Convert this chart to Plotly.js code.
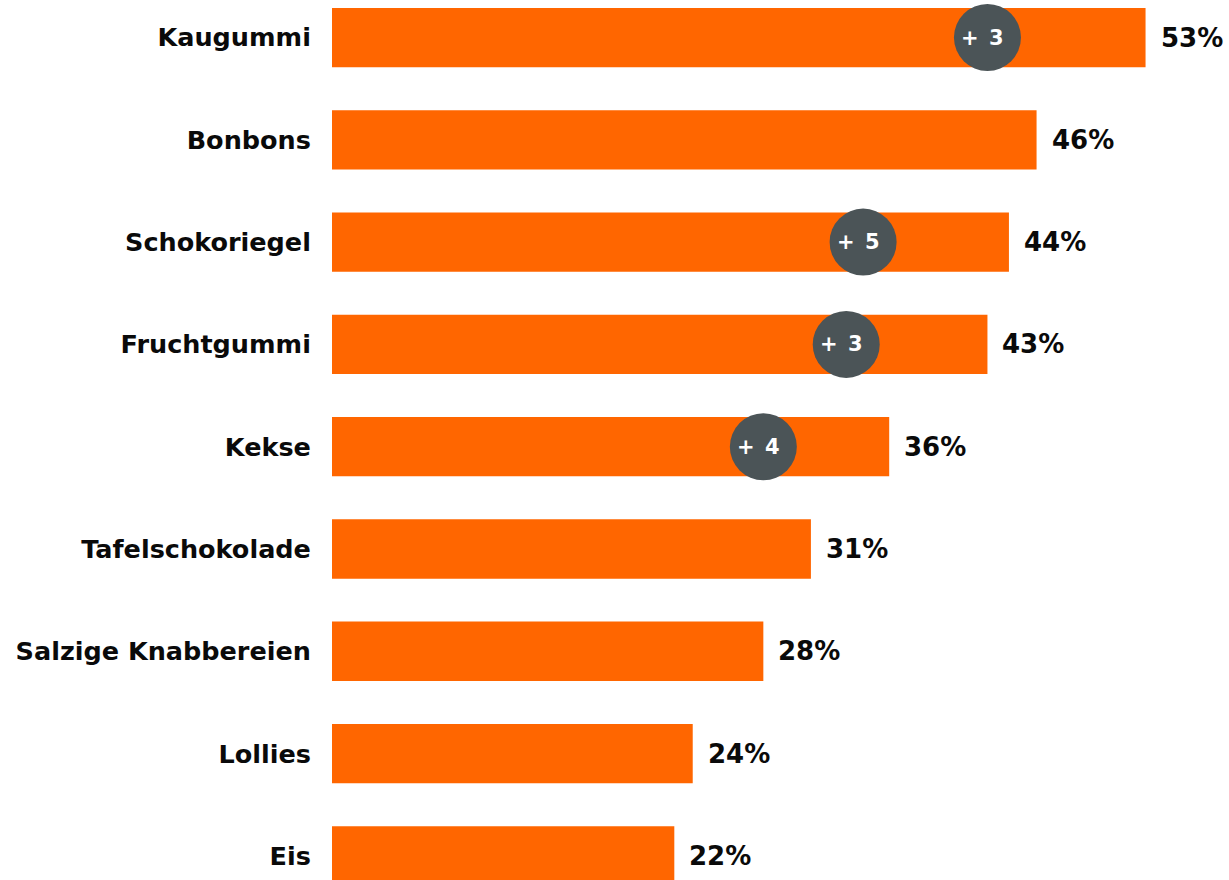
<!DOCTYPE html>
<html>
<head>
<meta charset="utf-8">
<script src="https://cdn.plot.ly/plotly-3.0.1.min.js"></script>
<style>
  html, body { margin: 0; padding: 0; background: #fff; }
  #chart { width: 1229px; height: 880px; }
</style>
</head>
<body>
<div id="chart"></div>
<script>
// Data
const categories = ["Kaugummi", "Bonbons", "Schokoriegel", "Fruchtgummi", "Kekse",
                    "Tafelschokolade", "Salzige Knabbereien", "Lollies", "Eis"];
const values = [53.0, 45.9, 44.1, 42.7, 36.3, 31.2, 28.1, 23.5, 22.3];
const valueLabels = ["53%", "46%", "44%", "43%", "36%", "31%", "28%", "24%", "22%"];

const changeCategories = ["Kaugummi", "Schokoriegel", "Fruchtgummi", "Kekse"];
const changeX = [42.7, 34.6, 33.5, 28.1];
const changeLabels = ["+ 3", "+ 5", "+ 3", "+ 4"];

const FONT = "DejaVu Sans, Verdana, sans-serif";
const ORANGE = "#FF6600";
const DARK = "#4B5457";

const bars = {
  type: "bar",
  orientation: "h",
  y: categories,
  x: values,
  width: 0.58,
  marker: { color: ORANGE, line: { width: 0 } },
  hoverinfo: "skip",
  showlegend: false
};

const circles = {
  type: "scatter",
  mode: "markers",
  y: changeCategories,
  x: changeX,
  marker: { size: 67, color: DARK, line: { width: 0 } },
  hoverinfo: "skip",
  showlegend: false,
  cliponaxis: false
};

const annotations = [];
categories.forEach((c, i) => {
  annotations.push({
    x: values[i], y: c, xref: "x", yref: "y",
    text: valueLabels[i], showarrow: false,
    xanchor: "left", yanchor: "middle", xshift: 13,
    font: { family: FONT, size: 26, color: "#0A0A0A", weight: "bold" }
  });
});
changeCategories.forEach((c, i) => {
  annotations.push({
    x: changeX[i], y: c, xref: "x", yref: "y",
    text: changeLabels[i].replace(" ", "\u2002"), showarrow: false,
    xanchor: "center", yanchor: "middle", xshift: -5,
    font: { family: FONT, size: 21, color: "#FFFFFF", weight: "bold" }
  });
});

const layout = {
  width: 1229,
  height: 880,
  margin: { l: 332, r: 0, t: 0, b: 0, pad: 0 },
  paper_bgcolor: "#FFFFFF",
  plot_bgcolor: "#FFFFFF",
  font: { family: FONT },
  xaxis: {
    range: [0, 897 / 15.35],
    visible: false,
    showgrid: false,
    zeroline: false,
    fixedrange: true
  },
  yaxis: {
    type: "category",
    categoryorder: "array",
    categoryarray: categories,
    range: [8.236, -0.367],
    showgrid: false,
    zeroline: false,
    showline: false,
    ticks: "outside",
    ticklen: 15,
    tickcolor: "rgba(0,0,0,0)",
    tickfont: { family: FONT, size: 25.5, color: "#0A0A0A", weight: "bold" },
    fixedrange: true
  },
  annotations: annotations,
  bargap: 0.42
};

Plotly.newPlot("chart", [bars, circles], layout, { displayModeBar: false, staticPlot: true });
</script>
</body>
</html>
